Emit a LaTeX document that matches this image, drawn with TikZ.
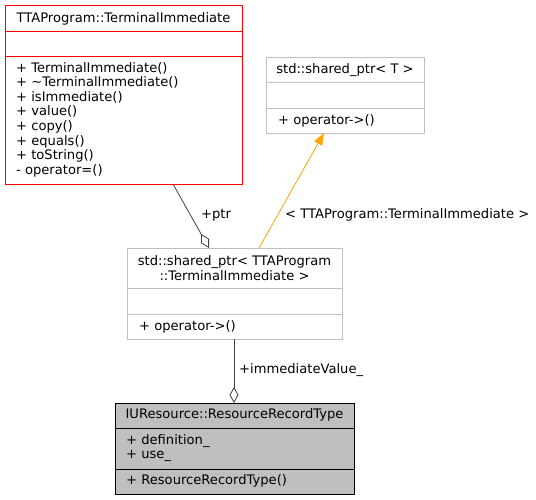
\documentclass[tikz,border=0pt]{standalone}
\usepackage{fontspec}
\setmainfont{DejaVu Sans}
\usetikzlibrary{arrows.meta}
\definecolor{edgegray}{RGB}{64,64,64}
\definecolor{boxgray}{RGB}{191,191,191}
\definecolor{inhorange}{RGB}{255,165,0}
\begin{document}
\begin{tikzpicture}[x=1pt,y=-1pt,
  every node/.style={font=\fontsize{13.1}{14.6}\selectfont, inner sep=0pt, text=black},
  redbox/.style={draw=red, line width=0.9pt},
  graybox/.style={draw=boxgray, line width=0.9pt},
  curbox/.style={draw=black, fill=boxgray, line width=0.9pt},
  txtl/.style={anchor=west, align=left},
  agg/.style={draw=edgegray, line width=0.8pt, -{Diamond[open,fill=white,length=16pt,width=9pt]}},
  inh/.style={draw=inhorange, line width=0.8pt, -{Triangle[length=12pt,width=9pt]}},
  lbl/.style={anchor=west}
]
\useasboundingbox (0,0) rectangle (536,500);

% TTAProgram::TerminalImmediate
\node[redbox, minimum width=237pt, minimum height=179pt] (ti) at (123.5,94.5) {};
\draw[red, line width=0.9pt] (5,31) -- (242,31) (5,56) -- (242,56);
\node (tititle) at (123.5,18.5) {TTAProgram::TerminalImmediate};
\node[txtl] (timeth) at (16,119.5) {+ TerminalImmediate()\\+ \textasciitilde TerminalImmediate()\\+ isImmediate()\\+ value()\\+ copy()\\+ equals()\\+ toString()\\- operator=()};

% std::shared_ptr< T >
\node[graybox, minimum width=158pt, minimum height=76pt] (spt) at (345,95) {};
\draw[boxgray, line width=0.9pt] (266,82) -- (424,82) (266,108) -- (424,108);
\node (spttitle) at (345,70) {std::shared\_ptr< T >};
\node[txtl] (sptmeth) at (278,120.5) {+ operator->()};

% std::shared_ptr< TTAProgram::TerminalImmediate >
\node[graybox, minimum width=215pt, minimum height=91pt] (spi) at (234.5,293.5) {};
\draw[boxgray, line width=0.9pt] (127,288) -- (342,288) (127,314) -- (342,314);
\node[align=center] (spititle) at (234.5,268) {std::shared\_ptr< TTAProgram\\::TerminalImmediate >};
\node[txtl] (spimeth) at (139,326.5) {+ operator->()};

% IUResource::ResourceRecordType
\node[curbox, minimum width=239pt, minimum height=91pt] (rrt) at (234.5,448.5) {};
\draw[black, line width=0.9pt] (115,428) -- (354,428) (115,469) -- (354,469);
\node (rrttitle) at (234.5,415) {IUResource::ResourceRecordType};
\node[txtl] (rrtattr) at (126,448) {+ definition\_\\+ use\_};
\node[txtl] (rrtmeth) at (126,481) {+ ResourceRecordType()};

% connectors
\coordinate (tiout) at (173,184);
\coordinate (spiin) at (209,248);
\coordinate (sptin) at (324,133);
\coordinate (spiout) at (259,248);
\coordinate (spibot) at (234,339);
\coordinate (rrttop) at (234,403);
\draw[agg] (tiout) -- (spiin);
\draw[inh] (spiout) -- (sptin);
\draw[agg] (spibot) -- (rrttop);

\node[lbl] (lptr) at (201,215) {+ptr};
\node[lbl] (ltmpl) at (285,215) {< TTAProgram::TerminalImmediate >};
\node[lbl] (limm) at (239,370) {+immediateValue\_};
\end{tikzpicture}
\end{document}
